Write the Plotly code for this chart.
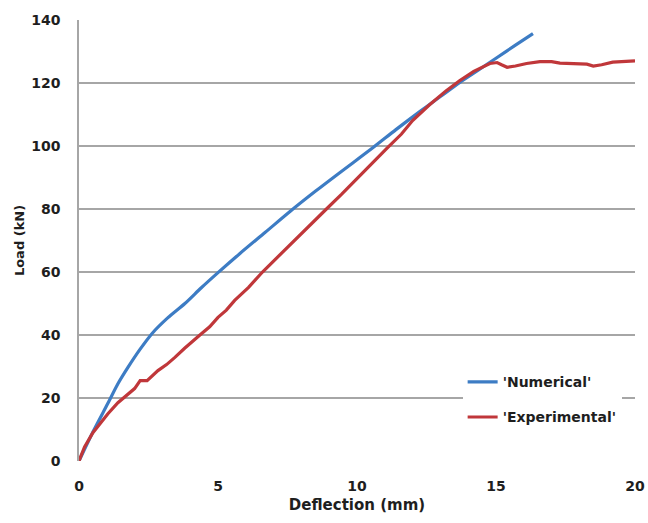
import plotly.graph_objects as go

# Numerical curve
num_x = [0, 0.5, 1.04, 1.4, 1.76, 2.2, 2.63, 3.2, 3.81, 4.4, 5.0, 5.79, 6.7,
         7.59, 8.5, 9.39, 10.58, 11.4, 12.27, 13.0, 13.7, 14.4, 15.04, 15.7, 16.33]
num_y = [0, 9.2, 18.3, 24.5, 29.7, 35.5, 40.5, 45.5, 50, 55, 59.8, 65.9, 72.6,
         79.2, 85.6, 91.6, 99.5, 105.2, 111, 115.7, 120.2, 124.3, 128.1, 132, 135.7]

# Experimental curve
exp_x = [0, 0.2, 0.5, 0.8, 1.04, 1.4, 1.76, 2.0, 2.2, 2.45, 2.84, 3.15, 3.45,
         3.8, 4.35, 4.7, 5.0, 5.3, 5.6, 6.1, 6.6, 7.2, 7.5, 7.8, 8.35, 8.9,
         9.45, 10.0, 10.55, 11.1, 11.6, 12.0, 12.6, 13.2, 13.7, 14.2, 14.78,
         15.04, 15.2, 15.4, 15.7, 16.1, 16.58, 17.0, 17.3, 17.8, 18.27, 18.5,
         18.8, 19.2, 19.6, 20.0]
exp_y = [0, 4.5, 9, 12.5, 15, 18.5, 21.4, 23, 25.5, 25.5, 28.7, 30.6, 32.9,
         35.8, 40, 42.6, 45.6, 47.9, 51, 55.1, 60, 65.3, 67.6, 70.5, 75.4, 80,
         84.7, 89.7, 94.8, 99.5, 103.8, 108.1, 113, 117.5, 120.8, 123.7, 126.2,
         126.5, 125.8, 125, 125.4, 126.2, 126.8, 126.8, 126.3, 126.2, 126, 125.4,
         125.8, 126.6, 126.8, 127]

x_ticks = [0, 5, 10, 15, 20]
y_ticks = [0, 20, 40, 60, 80, 100, 120, 140]

BLUE = "#3d7cc4"
RED = "#c0373a"
FONT = "DejaVu Sans"
TXT = "#1e1e1e"

fig = go.Figure()
fig.add_trace(go.Scatter(x=num_x, y=num_y, mode="lines", name="'Numerical'",
                         line=dict(color=BLUE, width=3.2, shape="spline", smoothing=0.8),
                         legendgroup="a"))
fig.add_trace(go.Scatter(x=exp_x, y=exp_y, mode="lines", name="'Experimental'",
                         line=dict(color=RED, width=3.2), legendgroup="b"))

fig.update_layout(
    width=648, height=523,
    margin=dict(l=79, r=13, t=20, b=62),
    paper_bgcolor="white", plot_bgcolor="white",
    font=dict(family=FONT, color=TXT),
    legend=dict(x=0.69, y=0.215, xanchor="left", yanchor="top",
                bgcolor="white", traceorder="grouped", tracegroupgap=14,
                font=dict(family=FONT, size=14, weight="bold", color=TXT)),
    xaxis=dict(range=[0, 20], tickvals=x_ticks, showgrid=False, zeroline=False,
               showline=False, ticks="", automargin=False,
               tickfont=dict(family=FONT, size=14, weight="bold", color=TXT),
               ticklabelstandoff=15,
               title=dict(text="Deflection (mm)", standoff=6,
                          font=dict(family=FONT, size=15, weight="bold", color=TXT))),
    yaxis=dict(range=[0, 140], tickvals=y_ticks, showgrid=True, gridcolor="#a6a6a6",
               gridwidth=1.5, zeroline=False, showline=True, linecolor="#a6a6a6",
               linewidth=1.5, ticks="", automargin=False,
               tickfont=dict(family=FONT, size=14, weight="bold", color=TXT),
               ticklabelstandoff=14,
               title=dict(text="Load (kN)", standoff=4,
                          font=dict(family=FONT, size=13, weight="bold", color=TXT))),
)

fig.write_html("out.html")
